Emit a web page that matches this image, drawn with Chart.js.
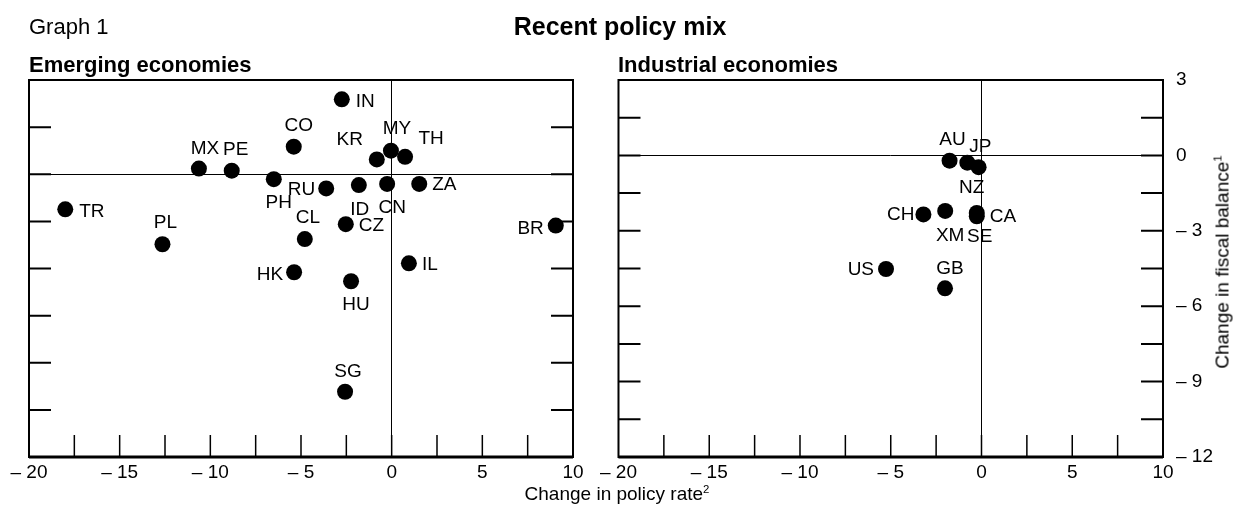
<!DOCTYPE html>
<html>
<head>
<meta charset="utf-8">
<title>Recent policy mix</title>
<script src="https://cdn.jsdelivr.net/npm/chart.js@4.4.1/dist/chart.umd.min.js"></script>
<style>
  html, body { margin: 0; padding: 0; background: #fff; }
  body { width: 1234px; height: 506px; position: relative; overflow: hidden;
         font-family: "Liberation Sans", Arial, sans-serif; color: #000; }
  canvas { position: absolute; top: 0; }
  .txt { position: absolute; line-height: 1; white-space: nowrap; }
  sup { font-size: 0.6em; vertical-align: 0.6em; line-height: 0; }
</style>
</head>
<body>
<canvas id="emerging" width="596" height="506" style="left:0"></canvas>
<canvas id="industrial" width="638" height="506" style="left:596px"></canvas>

<div class="txt" style="left:29px;top:16px;font-size:22px">Graph 1</div>
<div class="txt" style="left:620px;top:14px;font-size:25px;font-weight:bold;transform:translateX(-50%)">Recent policy mix</div>
<div class="txt" style="left:29px;top:54px;font-size:22px;font-weight:bold">Emerging economies</div>
<div class="txt" style="left:618px;top:54px;font-size:22px;font-weight:bold">Industrial economies</div>
<div class="txt" style="left:617px;top:484px;font-size:19px;transform:translateX(-50%)">Change in policy rate<sup>2</sup></div>
<div class="txt" style="left:1222px;top:262px;font-size:19px;transform:translate(-50%,-50%) rotate(-90deg)">Change in fiscal balance<sup>1</sup></div>

<script>
// change in policy rate (x) and change in fiscal balance (y)
var emergingCodes  = ['IN', 'CO', 'MX', 'PE', 'KR', 'MY', 'TH', 'PH', 'RU', 'ID', 'CN',
                      'ZA', 'TR', 'PL', 'CL', 'CZ', 'BR', 'HK', 'IL', 'HU', 'SG'];
var emergingRate   = [-2.75, -5.4, -10.63, -8.82, -0.82, -0.04, 0.74, -6.5, -3.61, -1.81, -0.25,
                      1.52, -18.0, -12.64, -4.79, -2.53, 9.05, -5.38, 0.95, -2.24, -2.57];
var emergingFiscal = [3.18, 1.17, 0.24, 0.15, 0.63, 1.0, 0.74, -0.21, -0.6, -0.46, -0.41,
                      -0.41, -1.49, -2.97, -2.75, -2.12, -2.18, -4.16, -3.78, -4.54, -9.23];

var industrialCodes  = ['AU', 'JP', 'NZ', 'CH', 'XM', 'SE', 'CA', 'US', 'GB'];
var industrialRate   = [-1.76, -0.78, -0.16, -3.2, -2.0, -0.26, -0.26, -5.26, -2.01];
var industrialFiscal = [-0.21, -0.29, -0.47, -2.35, -2.21, -2.29, -2.42, -4.52, -5.29];

// where each code is written relative to its dot: [textAlign, dx, dy]
var labelPlacement = {
  IN: ['left', 14, 2],    CO: ['center', 5, -21], MX: ['center', 6, -20], PE: ['center', 4, -21],
  KR: ['center', -27, -20], MY: ['center', 6, -22], TH: ['center', 26, -18],
  PH: ['center', 5, 24],  RU: ['right', -11, 1],  ID: ['center', 1, 25],  CN: ['center', 5, 24],
  ZA: ['left', 13, 1],    TR: ['left', 14, 2],    PL: ['center', 3, -21], CL: ['center', 3, -21],
  CZ: ['left', 13, 2],    BR: ['right', -12, 3],  HK: ['right', -11, 2],  IL: ['left', 13, 1],
  HU: ['center', 5, 24],  SG: ['center', 3, -20],
  AU: ['center', 3, -21], JP: ['center', 13, -16], NZ: ['center', -7, 21], CH: ['right', -9, 0],
  XM: ['center', 5, 25],  SE: ['center', 3, 24],  CA: ['left', 13, 1],    US: ['right', -12, 1],
  GB: ['center', 5, -20]
};

var FONT = '"Liberation Sans", Arial, sans-serif';
Chart.defaults.font.family = FONT;
Chart.defaults.color = '#000';

function fmt(v) {
  return v < 0 ? '\u2013 ' + Math.abs(v) : String(v);
}

function zeroOnly(ctx) {
  return ctx.tick && ctx.tick.value === 0 ? '#000' : 'rgba(0,0,0,0)';
}

function toPoints(xs, ys) {
  return xs.map(function (x, i) { return { x: x, y: ys[i] }; });
}

// box round the plot area with short inward tick marks
var framePlugin = {
  id: 'frame',
  afterDraw: function (chart, args, opts) {
    var c = chart.ctx, a = chart.chartArea;
    var xs = chart.scales.x, ys = chart.scales.y;
    var v, p;
    c.save();
    c.strokeStyle = '#000';
    c.lineWidth = 1.5;
    c.beginPath();
    for (v = xs.min + opts.xStep; v < xs.max - 1e-6; v += opts.xStep) {
      p = xs.getPixelForValue(v);
      c.moveTo(p, a.bottom);
      c.lineTo(p, a.bottom - 22);
    }
    c.stroke();
    c.lineWidth = 2;
    c.beginPath();
    for (v = ys.min + opts.yStep; v < ys.max - 1e-6; v += opts.yStep) {
      p = ys.getPixelForValue(v);
      c.moveTo(a.left, p);
      c.lineTo(a.left + 22, p);
      c.moveTo(a.right - 22, p);
      c.lineTo(a.right, p);
    }
    c.stroke();
    c.lineWidth = 2;
    c.strokeRect(a.left, a.top, a.right - a.left, a.bottom - a.top);
    c.lineWidth = 3;
    c.beginPath();
    c.moveTo(a.left, a.bottom);
    c.lineTo(a.right, a.bottom);
    c.stroke();
    c.restore();
  }
};

var codeLabels = {
  id: 'codeLabels',
  afterDatasetsDraw: function (chart, args, opts) {
    var c = chart.ctx;
    var meta = chart.getDatasetMeta(0);
    c.save();
    c.font = '19px ' + FONT;
    c.fillStyle = '#000';
    c.textBaseline = 'middle';
    meta.data.forEach(function (pt, i) {
      var code = opts.codes[i];
      var pl = labelPlacement[code];
      c.textAlign = pl[0];
      c.fillText(code, pt.x + pl[1], pt.y + pl[2]);
    });
    c.restore();
  }
};

function panel(id, codes, xs, ys, cfg) {
  return new Chart(document.getElementById(id), {
    type: 'scatter',
    data: {
      datasets: [{
        data: toPoints(xs, ys),
        backgroundColor: '#000',
        borderWidth: 0,
        pointRadius: 8,
        pointHoverRadius: 8
      }]
    },
    options: {
      responsive: false,
      animation: false,
      events: [],
      layout: { padding: cfg.padding },
      plugins: {
        legend: { display: false },
        tooltip: { enabled: false },
        frame: { xStep: 2.5, yStep: cfg.yStep },
        codeLabels: { codes: codes }
      },
      scales: {
        x: {
          type: 'linear',
          min: -20,
          max: 10,
          border: { display: false },
          grid: { color: zeroOnly, lineWidth: 1, drawTicks: false },
          ticks: { stepSize: 5, callback: fmt, font: { size: 19 }, padding: 4, maxRotation: 0, autoSkip: false },
          afterFit: function (s) { s.height = 30; }
        },
        y: {
          type: 'linear',
          position: cfg.yPosition,
          min: -12,
          max: cfg.yMax,
          border: { display: false },
          grid: { color: zeroOnly, lineWidth: 1, drawTicks: false },
          ticks: { display: cfg.yLabels, stepSize: cfg.yLabelStep, callback: fmt, font: { size: 19 }, padding: 13 },
          afterFit: function (s) { s.width = cfg.yWidth; }
        }
      }
    },
    plugins: [framePlugin, codeLabels]
  });
}

panel('emerging', emergingCodes, emergingRate, emergingFiscal, {
  padding: { left: 29, top: 80, right: 23, bottom: 19 },
  yPosition: 'left', yMax: 4, yStep: 2, yLabelStep: 2, yLabels: false, yWidth: 0
});

panel('industrial', industrialCodes, industrialRate, industrialFiscal, {
  padding: { left: 22, top: 80, right: 21, bottom: 19 },
  yPosition: 'right', yMax: 3, yStep: 1.5, yLabelStep: 3, yLabels: true, yWidth: 50
});
</script>
</body>
</html>
